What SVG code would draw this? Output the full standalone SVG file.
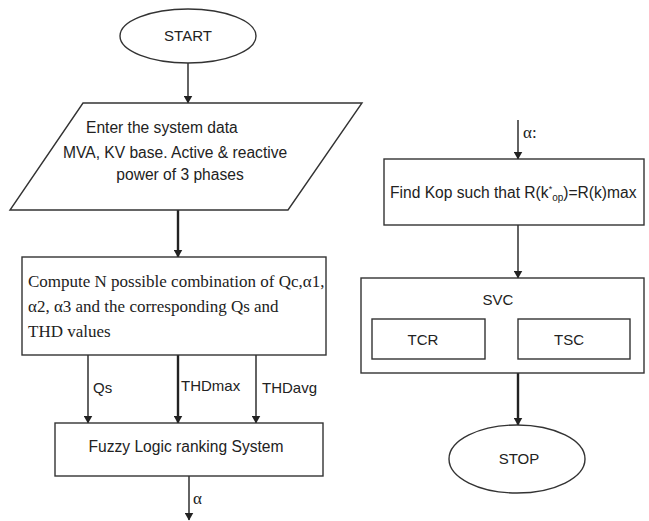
<svg xmlns="http://www.w3.org/2000/svg" width="649" height="521" viewBox="0 0 649 521">
<style>
.s{fill:#fff;stroke:#333;stroke-width:1.4}
.t{font-family:"Liberation Sans",Arial,sans-serif;font-size:15px;fill:#222}
.b{font-size:15.6px}
.r{font-family:"Liberation Serif","Times New Roman",serif;font-size:17px;fill:#222}
.c{stroke:#222;stroke-width:1.4;fill:none;marker-end:url(#a)}
.k{stroke-width:2.4}
</style>
<defs>
<marker id="a" viewBox="0 0 8 9" refX="7.5" refY="4.5" markerWidth="8" markerHeight="9" markerUnits="userSpaceOnUse" orient="auto">
<path d="M0,0 L8,4.5 L0,9 Z" fill="#222"/>
</marker>
</defs>
<g id="connectors">
<line class="c" x1="188" y1="63" x2="188" y2="103"/>
<line class="c k" x1="178" y1="210" x2="178" y2="257"/>
<line class="c" x1="88" y1="355" x2="88" y2="423"/>
<line class="c k" x1="178" y1="355" x2="178" y2="423"/>
<line class="c" x1="256" y1="355" x2="256" y2="423"/>
<line class="c" x1="189" y1="476" x2="189" y2="520"/>
<line class="c" x1="518" y1="120" x2="518" y2="159"/>
<line class="c" x1="518" y1="225" x2="518" y2="278"/>
<line class="c k" x1="518" y1="373" x2="518" y2="425"/>
<text class="t" x="93" y="393">Qs</text>
<text class="t" x="181" y="391">THDmax</text>
<text class="t" x="262" y="393">THDavg</text>
<text class="r" x="193" y="504">α</text>
<text class="r" x="523" y="138">α:</text>
</g>
<g id="start">
<ellipse class="s" cx="188" cy="36" rx="68" ry="27"/>
<text class="t" x="188" y="41" text-anchor="middle">START</text>
</g>
<g id="input">
<polygon class="s" points="83,103 362,103 288,210 10,210"/>
<text class="t b" x="86" y="133">Enter the system data</text>
<text class="t b" x="63" y="158">MVA, KV base. Active &amp; reactive</text>
<text class="t b" x="180" y="180" text-anchor="middle">power of 3 phases</text>
</g>
<g id="compute">
<rect class="s" x="22" y="257" width="304" height="98"/>
<text class="r" x="28" y="287">Compute N possible combination of Qc,α1,</text>
<text class="r" x="28" y="312">α2, α3 and the corresponding Qs and</text>
<text class="r" x="28" y="337">THD values</text>
</g>
<g id="fuzzy">
<rect class="s" x="55" y="423" width="268" height="53"/>
<text class="t b" x="186" y="452" text-anchor="middle">Fuzzy Logic ranking System</text>
</g>
<g id="find">
<rect class="s" x="384" y="159" width="260" height="66"/>
<text class="t b" x="390" y="198">Find Kop such that R(k<tspan font-size="9" dy="-6">*</tspan><tspan font-size="10" dy="9">op</tspan><tspan dy="-3">)=R(k)max</tspan></text>
</g>
<g id="svc">
<rect class="s" x="361" y="278" width="283" height="95"/>
<text class="t" x="498" y="305" text-anchor="middle">SVC</text>
</g>
<g id="tcr">
<rect class="s" x="372" y="319" width="113" height="40"/>
<text class="t" x="423" y="345" text-anchor="middle">TCR</text>
</g>
<g id="tsc">
<rect class="s" x="518" y="319" width="112" height="40"/>
<text class="t" x="569" y="345" text-anchor="middle">TSC</text>
</g>
<g id="stop">
<ellipse class="s" cx="517" cy="459" rx="68" ry="34"/>
<text class="t" x="519" y="464" text-anchor="middle">STOP</text>
</g>
</svg>
